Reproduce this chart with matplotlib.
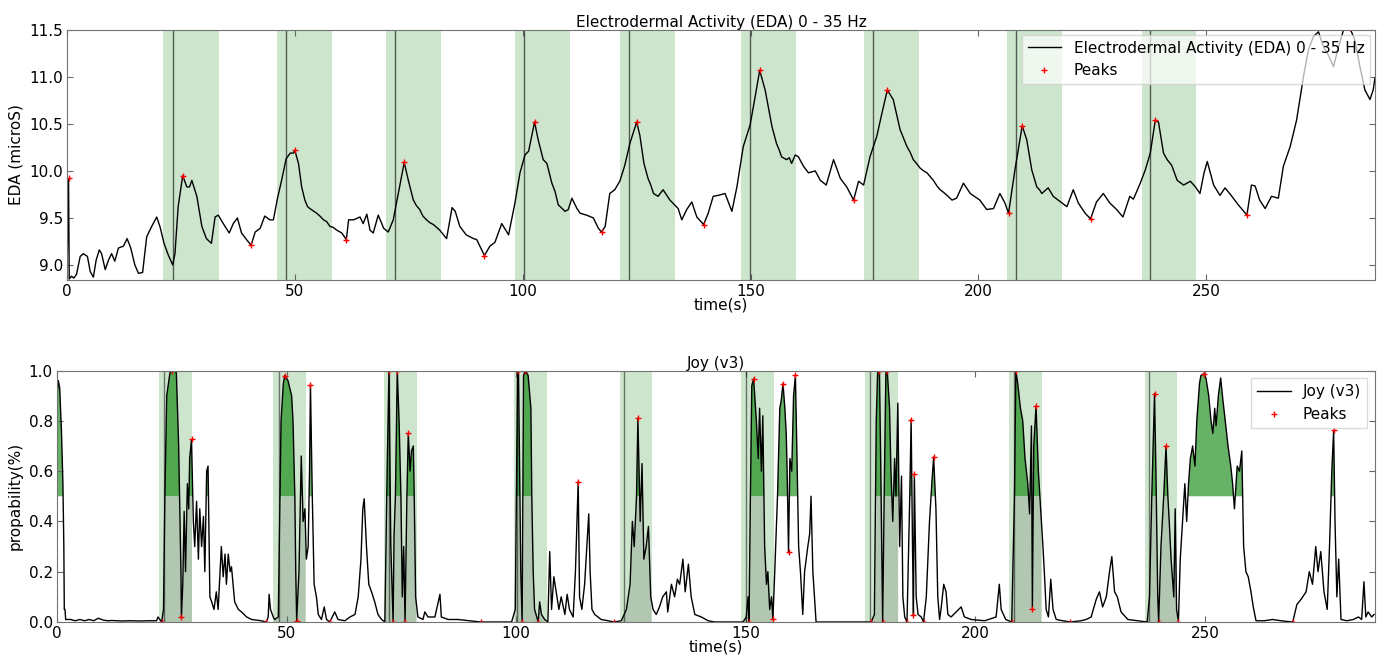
import matplotlib
matplotlib.use('Agg')
import matplotlib.pyplot as plt
import numpy as np

# EDA signal, (time s, microS)
eda_points = [
  (0.0, 8.85), (0.35, 9.92), (0.5, 8.85), (1.0, 8.88), (1.5, 8.86), (2.1, 8.90), (2.9, 9.09),
  (3.6, 9.12), (4.5, 9.09), (5.1, 8.93), (5.8, 8.87), (6.4, 9.05), (7.1, 9.16), (7.6, 9.12),
  (8.4, 8.95), (9.1, 9.05), (9.8, 9.12), (10.5, 9.04), (11.3, 9.18), (12.4, 9.20), (13.2, 9.28),
  (14.0, 9.18), (14.9, 9.00), (15.7, 8.91), (16.6, 8.92), (17.5, 9.30), (18.6, 9.41), (19.7, 9.51),
  (20.4, 9.41), (21.3, 9.23), (22.2, 9.11), (23.2, 9.00), (23.7, 9.12), (24.4, 9.62), (25.4, 9.95),
  (26.3, 9.83), (26.9, 9.83), (27.4, 9.90), (28.5, 9.73), (29.6, 9.41), (30.6, 9.28), (31.7, 9.23),
  (32.5, 9.51), (33.2, 9.53), (34.3, 9.44), (35.6, 9.34), (36.5, 9.44), (37.4, 9.50), (38.3, 9.34),
  (39.4, 9.27), (40.4, 9.21), (41.3, 9.35), (42.4, 9.39), (43.4, 9.52), (44.5, 9.48), (45.3, 9.48),
  (46.2, 9.71), (47.1, 9.90), (48.1, 10.13), (49.0, 10.19), (49.7, 10.19), (50.0, 10.22),
  (50.8, 10.08), (51.5, 9.83), (52.2, 9.69), (52.8, 9.62), (53.3, 9.60), (53.9, 9.58), (54.8, 9.55),
  (55.5, 9.52), (56.3, 9.48), (57.0, 9.46), (57.7, 9.41), (58.4, 9.40), (59.2, 9.37), (60.3, 9.34),
  (61.3, 9.27), (61.8, 9.48), (62.9, 9.48), (64.3, 9.51), (65.0, 9.44), (65.8, 9.54), (66.5, 9.37),
  (67.2, 9.34), (68.3, 9.53), (69.5, 9.39), (70.5, 9.35), (71.6, 9.48), (72.7, 9.76), (74.0, 10.09),
  (74.9, 9.90), (76.0, 9.69), (76.7, 9.63), (77.4, 9.59), (78.1, 9.52), (78.9, 9.48), (79.6, 9.45),
  (80.4, 9.43), (81.1, 9.40), (81.8, 9.37), (83.3, 9.28), (84.5, 9.61), (85.2, 9.57), (86.2, 9.41),
  (87.6, 9.32), (89.2, 9.28), (89.9, 9.27), (90.6, 9.20), (91.6, 9.10), (92.8, 9.20), (93.9, 9.24),
  (95.4, 9.44), (96.9, 9.32), (98.3, 9.66), (99.4, 9.98), (100.5, 10.17), (101.3, 10.21),
  (102.6, 10.52), (103.4, 10.33), (104.5, 10.12), (105.3, 10.08), (106.4, 9.87), (107.1, 9.78),
  (107.8, 9.64), (109.3, 9.57), (110.0, 9.59), (110.8, 9.71), (111.9, 9.60), (112.6, 9.55),
  (114.0, 9.53), (115.5, 9.50), (116.6, 9.39), (117.3, 9.35), (118.1, 9.41), (119.1, 9.76),
  (120.2, 9.80), (121.3, 9.89), (122.4, 10.06), (123.5, 10.29), (125.0, 10.52), (125.7, 10.38),
  (126.6, 10.08), (127.5, 9.92), (128.1, 9.85), (128.7, 9.76), (129.7, 9.73), (130.8, 9.80),
  (132.3, 9.69), (134.1, 9.60), (134.9, 9.48), (136.0, 9.59), (137.1, 9.67), (138.2, 9.51),
  (139.7, 9.43), (140.7, 9.55), (141.8, 9.73), (142.9, 9.74), (144.4, 9.76), (145.9, 9.57),
  (147.0, 9.83), (148.4, 10.26), (149.9, 10.49), (151.0, 10.79), (152.0, 11.07), (153.2, 10.86),
  (154.7, 10.47), (155.7, 10.29), (156.3, 10.22), (156.8, 10.15), (157.9, 10.12), (158.5, 10.14),
  (159.0, 10.08), (159.8, 10.17), (160.5, 10.15), (161.6, 10.05), (162.7, 9.98), (164.2, 10.00),
  (165.3, 9.90), (166.6, 9.85), (168.2, 10.12), (169.7, 9.92), (171.1, 9.83), (172.6, 9.69),
  (173.7, 9.89), (174.8, 9.85), (176.2, 10.15), (177.7, 10.37), (178.8, 10.61), (180.0, 10.86),
  (181.3, 10.76), (182.8, 10.44), (184.3, 10.26), (185.0, 10.20), (185.7, 10.12), (186.4, 10.08),
  (187.2, 10.03), (188.0, 10.00), (188.7, 9.98), (189.4, 9.94), (190.1, 9.90), (190.9, 9.84),
  (191.6, 9.80), (192.4, 9.77), (193.1, 9.74), (194.2, 9.69), (195.2, 9.71), (196.7, 9.87),
  (198.2, 9.76), (200.3, 9.69), (201.8, 9.59), (203.3, 9.60), (204.7, 9.76), (205.8, 9.66),
  (206.6, 9.55), (208.0, 10.01), (209.6, 10.48), (210.6, 10.33), (211.7, 10.01), (212.8, 9.83),
  (213.4, 9.80), (213.9, 9.76), (215.3, 9.82), (216.4, 9.73), (218.3, 9.66), (219.4, 9.62),
  (220.8, 9.80), (221.9, 9.66), (223.4, 9.55), (224.6, 9.49), (225.9, 9.67), (227.4, 9.76),
  (228.8, 9.66), (230.3, 9.59), (231.7, 9.51), (233.2, 9.73), (234.0, 9.70), (235.5, 9.87),
  (236.6, 10.01), (237.7, 10.19), (238.8, 10.54), (239.5, 10.52), (240.6, 10.19), (241.4, 10.12),
  (242.4, 10.06), (243.6, 9.90), (245.0, 9.85), (246.5, 9.89), (247.6, 9.83), (248.6, 9.76),
  (249.5, 9.98), (250.2, 10.10), (251.6, 9.85), (253.0, 9.74), (254.1, 9.82), (255.6, 9.73),
  (257.0, 9.64), (258.9, 9.53), (259.9, 9.85), (260.7, 9.84), (261.7, 9.69), (262.9, 9.60),
  (264.3, 9.73), (265.8, 9.71), (266.9, 10.05), (268.4, 10.26), (269.8, 10.54), (271.3, 11.00),
  (272.4, 11.29), (273.5, 11.43), (274.6, 11.48), (275.7, 11.32), (276.8, 11.23), (277.9, 11.11),
  (279.0, 11.32), (280.1, 11.50), (281.5, 11.52), (282.6, 11.39), (283.7, 11.11), (284.8, 10.86),
  (285.9, 10.76), (286.6, 10.86), (287.0, 10.99)]
eda_peaks = [(0.35, 9.92), (25.4, 9.95), (40.4, 9.21), (50.0, 10.22), (61.3, 9.27), (74.0, 10.09),
             (91.6, 9.10), (102.6, 10.52), (117.3, 9.35), (125.0, 10.52), (139.7, 9.43),
             (152.0, 11.07), (172.6, 9.69), (180.0, 10.86), (206.6, 9.55), (209.6, 10.48),
             (224.6, 9.49), (238.8, 10.54), (258.9, 9.53), (281.5, 11.52)]
eda_span_start = [21.1, 46.1, 70.0, 98.4, 121.3, 147.9, 174.9, 206.2, 235.8]
eda_span_end = [33.3, 58.1, 82.1, 110.4, 133.4, 159.9, 186.9, 218.3, 247.7]
eda_marks = [23.3, 48.0, 72.0, 100.3, 123.3, 149.8, 176.8, 208.2, 237.6]

# Joy (v3) probability, (time s, p)
joy_points = [
  (0.0, 0.90), (0.3, 0.96), (0.6, 0.93), (1.0, 0.75), (1.3, 0.55), (1.5, 0.30), (1.6, 0.05),
  (1.75, 0.05), (1.9, 0.01), (3, 0.01), (4, 0.005), (5, 0.01), (6, 0.005), (7, 0.01), (8, 0.005),
  (9, 0.015), (10, 0.008), (11, 0.005), (12, 0.006), (14, 0.004), (16, 0.005), (18, 0.004),
  (20, 0.005), (21.7, 0.005), (22.0, 0.02), (22.8, 0.0), (23.2, 0.05), (23.5, 0.5), (23.9, 0.9),
  (24.6, 0.99), (25.0, 1.0), (25.7, 1.0), (26.0, 0.99), (26.5, 0.7), (27.0, 0.2), (27.1, 0.02),
  (27.4, 0.15), (27.7, 0.44), (28.0, 0.2), (28.4, 0.55), (28.7, 0.45), (28.9, 0.65), (29.3, 0.726),
  (29.7, 0.4), (30.0, 0.3), (30.4, 0.48), (30.8, 0.25), (31.1, 0.45), (31.5, 0.3), (31.9, 0.42),
  (32.2, 0.2), (32.6, 0.6), (32.9, 0.62), (33.3, 0.1), (33.7, 0.08), (34.2, 0.05), (34.7, 0.12),
  (35.1, 0.05), (35.8, 0.3), (36.2, 0.18), (36.6, 0.27), (36.9, 0.15), (37.3, 0.27), (37.7, 0.2),
  (38.0, 0.22), (38.7, 0.08), (39.5, 0.05), (40.2, 0.04), (41.3, 0.02), (42.4, 0.01),
  (44.5, 0.005), (45.6, 0.0), (46.0, 0.02), (46.2, 0.11), (46.5, 0.05), (47.1, 0.02), (47.4, 0.01),
  (48.2, 0.02), (48.8, 0.8), (49.3, 0.95), (49.6, 0.98), (50.3, 0.96), (51.1, 0.9), (51.4, 0.8),
  (51.8, 0.5), (52.0, 0.2), (52.2, 0.005), (52.7, 0.2), (53.2, 0.66), (53.6, 0.4), (54.0, 0.45),
  (54.3, 0.25), (54.7, 0.3), (55.0, 0.6), (55.2, 0.944), (55.6, 0.5), (56.0, 0.15), (56.5, 0.1),
  (56.9, 0.03), (57.6, 0.01), (58.2, 0.06), (58.7, 0.01), (59.4, 0.0), (60.5, 0.04), (61.2, 0.01),
  (62.7, 0.005), (63.8, 0.02), (64.9, 0.03), (65.6, 0.1), (66.2, 0.25), (66.6, 0.45), (66.9, 0.49),
  (67.4, 0.3), (67.9, 0.15), (68.5, 0.12), (69.2, 0.08), (69.9, 0.03), (70.7, 0.01), (71.4, 0.0),
  (71.9, 0.6), (72.3, 1.0), (72.7, 0.3), (73.2, 0.0), (73.4, 0.34), (73.7, 0.5), (74.1, 1.0),
  (74.5, 0.8), (74.9, 0.5), (75.2, 0.1), (75.5, 0.3), (75.8, 0.0), (76.2, 0.5), (76.5, 0.75),
  (76.9, 0.6), (77.2, 0.68), (77.6, 0.7), (77.8, 0.5), (78.1, 0.1), (78.6, 0.02), (79.7, 0.01),
  (80.1, 0.04), (80.8, 0.02), (82.3, 0.02), (83.4, 0.11), (83.7, 0.02), (85.2, 0.01), (87.3, 0.01),
  (92.3, 0.0), (95.3, 0.0), (99.0, 0.0), (99.8, 0.05), (100.3, 0.98), (100.5, 1.0), (101.0, 0.2),
  (101.3, 0.0), (101.6, 0.98), (102.0, 1.0), (102.6, 0.98), (103.2, 0.85), (103.4, 0.5),
  (103.7, 0.2), (104.0, 0.05), (104.8, 0.0), (105.1, 0.08), (105.5, 0.03), (106.2, 0.01),
  (106.9, 0.0), (107.3, 0.28), (107.7, 0.05), (108.2, 0.18), (108.7, 0.12), (109.3, 0.05),
  (109.8, 0.1), (110.6, 0.03), (111.1, 0.11), (111.6, 0.05), (112.4, 0.02), (112.9, 0.2),
  (113.5, 0.558), (113.8, 0.1), (114.3, 0.05), (114.9, 0.15), (115.8, 0.43), (116.1, 0.2),
  (116.5, 0.05), (117.1, 0.03), (118.5, 0.01), (120.0, 0.005), (121.3, 0.0), (122.9, 0.005),
  (124.0, 0.05), (124.8, 0.15), (125.3, 0.4), (125.7, 0.3), (126.2, 0.5), (126.5, 0.811),
  (127.0, 0.4), (127.4, 0.63), (127.8, 0.25), (128.3, 0.3), (128.8, 0.38), (129.3, 0.1),
  (129.8, 0.05), (130.5, 0.03), (131.2, 0.06), (131.9, 0.1), (132.7, 0.12), (133.0, 0.04),
  (133.8, 0.15), (134.5, 0.1), (135.1, 0.17), (135.6, 0.15), (136.3, 0.25), (136.8, 0.12),
  (137.5, 0.23), (138.1, 0.1), (138.9, 0.03), (140.3, 0.02), (141.8, 0.005), (143.2, 0.0),
  (149.4, 0.0), (150.1, 0.02), (150.5, 0.1), (150.7, 0.0), (151.0, 0.5), (151.3, 0.94),
  (151.7, 0.967), (152.3, 0.8), (152.7, 0.65), (153.0, 0.85), (153.4, 0.6), (153.7, 0.82),
  (154.1, 0.3), (154.5, 0.15), (154.8, 0.2), (155.2, 0.05), (155.6, 0.1), (155.9, 0.013),
  (156.3, 0.2), (156.9, 0.5), (157.4, 0.85), (157.7, 0.88), (158.1, 0.948), (158.5, 0.85),
  (158.8, 0.75), (159.0, 0.6), (159.3, 0.278), (159.6, 0.65), (160.0, 0.6), (160.4, 0.9),
  (160.8, 0.981), (161.1, 0.7), (161.5, 0.3), (161.9, 0.2), (162.4, 0.03), (162.8, 0.2),
  (163.5, 0.3), (163.9, 0.35), (164.2, 0.5), (164.6, 0.2), (165.3, 0.0), (167.1, 0.0),
  (176.6, 0.0), (177.3, 0.0), (178.0, 0.03), (178.4, 0.8), (178.7, 0.99), (179.1, 1.0),
  (179.4, 0.6), (179.8, 0.0), (180.2, 0.6), (180.5, 0.99), (180.8, 1.0), (181.3, 0.85),
  (181.6, 0.6), (182.0, 0.4), (182.4, 0.65), (182.7, 0.5), (183.1, 0.87), (183.5, 0.3),
  (183.9, 0.58), (184.2, 0.1), (184.6, 0.02), (185.1, 0.0), (185.7, 0.5), (186.0, 0.805),
  (186.3, 0.3), (186.5, 0.026), (186.7, 0.588), (187.1, 0.1), (187.5, 0.03), (188.2, 0.02),
  (188.7, 0.0), (189.3, 0.1), (190.0, 0.4), (190.5, 0.55), (190.9, 0.656), (191.4, 0.45),
  (191.8, 0.1), (192.2, 0.01), (192.5, 0.05), (193.1, 0.15), (193.6, 0.12), (194.0, 0.03),
  (194.7, 0.02), (195.8, 0.04), (196.9, 0.06), (197.6, 0.02), (199.1, 0.01), (202.0, 0.005),
  (204.5, 0.02), (205.2, 0.15), (205.6, 0.05), (206.6, 0.01), (207.9, 0.0), (208.5, 0.5),
  (208.8, 1.0), (209.2, 0.95), (209.8, 0.85), (210.3, 0.8), (210.8, 0.65), (211.4, 0.55),
  (211.8, 0.43), (212.2, 0.78), (212.4, 0.05), (212.7, 0.7), (213.2, 0.859), (213.7, 0.6),
  (214.2, 0.45), (214.7, 0.3), (215.0, 0.2), (215.4, 0.05), (215.9, 0.02), (216.4, 0.17),
  (216.9, 0.05), (217.6, 0.01), (219.0, 0.005), (220.7, 0.0), (223.0, 0.005), (224.1, 0.01),
  (225.2, 0.02), (226.3, 0.09), (227.0, 0.12), (227.7, 0.06), (228.5, 0.1), (229.2, 0.2),
  (229.7, 0.26), (230.3, 0.12), (230.9, 0.1), (231.7, 0.04), (233.2, 0.01), (235.3, 0.005),
  (237.4, 0.0), (237.9, 0.1), (238.4, 0.5), (239.0, 0.908), (239.3, 0.6), (239.7, 0.1),
  (239.9, 0.0), (240.4, 0.3), (241.0, 0.5), (241.5, 0.7), (241.9, 0.5), (242.2, 0.4),
  (242.6, 0.25), (243.2, 0.1), (243.5, 0.45), (243.8, 0.05), (244.2, 0.0), (244.6, 0.25),
  (245.1, 0.4), (245.6, 0.55), (246.0, 0.4), (246.4, 0.55), (246.8, 0.65), (247.3, 0.7),
  (247.8, 0.62), (248.2, 0.8), (248.8, 0.95), (249.1, 0.98), (249.7, 0.987), (250.2, 0.97),
  (250.8, 0.9), (251.3, 0.8), (251.7, 0.75), (252.1, 0.85), (252.4, 0.78), (252.9, 0.9),
  (253.4, 0.97), (253.9, 0.88), (254.4, 0.8), (255.0, 0.7), (255.6, 0.62), (256.0, 0.55),
  (256.4, 0.45), (257.0, 0.62), (257.5, 0.6), (258.0, 0.68), (258.4, 0.3), (258.9, 0.2),
  (259.4, 0.18), (260.0, 0.12), (260.5, 0.06), (261.1, 0.005), (262.9, 0.005), (264.7, 0.01),
  (266.5, 0.005), (269.1, 0.0), (270.0, 0.07), (270.9, 0.09), (272.0, 0.12), (272.7, 0.2),
  (273.4, 0.15), (274.1, 0.3), (274.6, 0.2), (275.2, 0.28), (275.9, 0.12), (276.6, 0.05),
  (277.1, 0.3), (277.6, 0.6), (278.0, 0.762), (278.3, 0.4), (278.7, 0.1), (279.1, 0.25),
  (279.6, 0.01), (280.9, 0.005), (282.3, 0.01), (283.4, 0.02), (284.1, 0.01), (284.6, 0.16),
  (285.0, 0.02), (285.5, 0.04), (286.3, 0.02), (286.8, 0.03)]
joy_peaks = [(22.8, 0.0), (25.0, 1.0), (27.1, 0.02), (29.3, 0.726), (45.6, 0.0), (49.6, 0.98),
             (52.2, 0.005), (55.2, 0.944), (59.4, 0.0), (72.3, 1.0), (73.2, 0.0), (74.1, 1.0),
             (75.8, 0.0), (76.5, 0.75), (92.3, 0.0), (100.5, 1.0), (101.3, 0.0), (102.0, 1.0),
             (104.8, 0.0), (113.5, 0.558), (121.3, 0.0), (126.5, 0.811), (150.7, 0.0),
             (151.7, 0.967), (155.9, 0.013), (158.1, 0.948), (159.3, 0.278), (160.8, 0.981),
             (177.3, 0.0), (179.1, 1.0), (179.8, 0.0), (180.8, 1.0), (185.1, 0.0), (186.0, 0.805),
             (186.5, 0.026), (186.7, 0.588), (188.7, 0.0), (190.9, 0.656), (207.9, 0.0),
             (208.8, 1.0), (212.4, 0.05), (213.2, 0.859), (220.7, 0.0), (239.0, 0.908),
             (239.9, 0.0), (241.5, 0.7), (244.2, 0.0), (249.7, 0.987), (269.1, 0.0), (278.0, 0.762)]
joy_span_start = [22.3, 47.1, 71.2, 99.6, 122.5, 149.0, 176.0, 207.4, 237.0]
joy_span_end = [29.3, 54.2, 78.4, 106.8, 129.6, 156.2, 183.2, 214.6, 244.0]
joy_marks = [23.3, 48.3, 72.2, 100.2, 123.5, 150.1, 177.1, 208.5, 237.9]

plt.rcParams['font.size'] = 11
plt.rcParams['font.family'] = 'DejaVu Sans'

fig = plt.figure(figsize=(13.89, 6.58), dpi=100)
ax1 = fig.add_axes([0.0482, 0.5745, 0.9417, 0.380])
ax2 = fig.add_axes([0.0410, 0.0547, 0.9489, 0.3822])

green = (0, 0.5, 0)

# top: EDA
et, ev = zip(*eda_points)
for s, e in zip(eda_span_start, eda_span_end):
  ax1.axvspan(s, e, color=green, alpha=0.2, lw=0)
for m in eda_marks:
  ax1.axvline(m, color='k', alpha=0.6, lw=1)
ax1.plot(et, ev, color='k', lw=1, label='Electrodermal Activity (EDA) 0 - 35 Hz')
pt, pv = zip(*eda_peaks)
ax1.plot(pt, pv, 'r+', ms=5, mew=1, label='Peaks')
ax1.set_xlim(0, 287)
ax1.set_ylim(8.84, 11.5)
ax1.set_yticks([9.0, 9.5, 10.0, 10.5, 11.0, 11.5])
ax1.set_xlabel('time(s)', labelpad=-1)
ax1.set_ylabel('EDA (microS)')
ax1.set_title('Electrodermal Activity (EDA) 0 - 35 Hz', fontsize=11, pad=2)
leg1 = ax1.legend(loc='upper right', numpoints=1, fancybox=False, framealpha=0.7,
                  borderaxespad=0.3, handlelength=2.2)
leg1.get_frame().set_edgecolor('0.8')

# bottom: Joy
jt, jp = (np.array(a) for a in zip(*joy_points))
for s, e in zip(joy_span_start, joy_span_end):
  ax2.axvspan(s, e, color=green, alpha=0.2, lw=0)
  inside = (jt >= s) & (jt <= e)
  ax2.fill_between(jt, 0, np.minimum(jp, 0.5), where=inside, color='k', alpha=0.13, lw=0)
for m in joy_marks:
  ax2.axvline(m, color='k', alpha=0.5, lw=1)
ax2.fill_between(jt, 0.5, jp, where=jp > 0.5, interpolate=True, color=green, alpha=0.6, lw=0)
ax2.plot(jt, jp, color='k', lw=1, label='Joy (v3)')
qt, qp = zip(*joy_peaks)
ax2.plot(qt, qp, 'r+', ms=5, mew=1, label='Peaks')
ax2.set_xlim(0, 287)
ax2.set_ylim(0, 1)
ax2.set_xlabel('time(s)', labelpad=-1)
ax2.set_ylabel('propability(%)')
ax2.set_title('Joy (v3)', fontsize=11, pad=2)
leg2 = ax2.legend(loc='upper right', numpoints=1, fancybox=False, framealpha=0.7,
                  borderaxespad=0.5, handlelength=2.2)
leg2.get_frame().set_edgecolor('0.8')

for ax in (ax1, ax2):
  ax.tick_params(direction='in', top=True, right=True, length=4, color='0.4', pad=3)
  for sp in ax.spines.values():
    sp.set_color('0.45')
  ax.set_xticks([0, 50, 100, 150, 200, 250])

fig.savefig('out.png', dpi=100)
